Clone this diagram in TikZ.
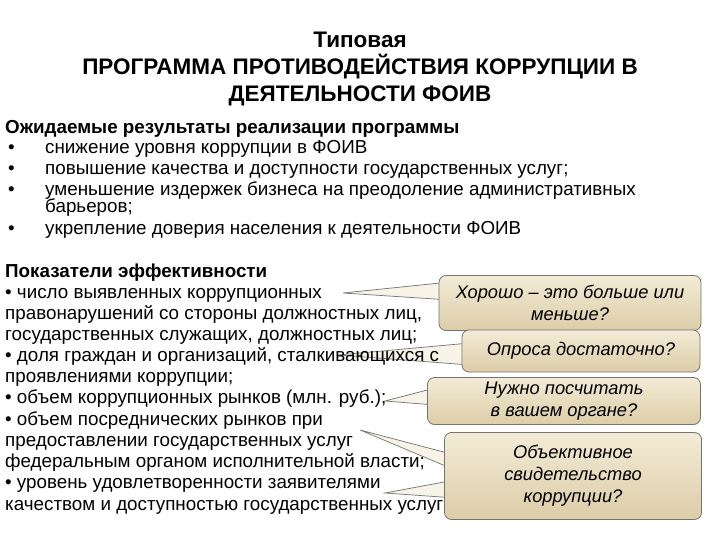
\documentclass[tikz,border=0pt]{standalone}
\usepackage{fontspec}
\setmainfont{Liberation Sans}
\begin{document}
\begin{tikzpicture}[x=1pt,y=-1pt,
  tx/.style={anchor=base west,inner sep=0pt,font=\fontsize{18.8}{20}\selectfont},
  ttl/.style={anchor=base,inner sep=0pt,font=\fontsize{22.5}{24}\selectfont\bfseries},
  call/.style={draw=black!55,line width=0.8pt,rounded corners=7pt,top color=callt,bottom color=callb,inner sep=0pt,align=center,font=\fontsize{18.3}{22}\selectfont\itshape},
  wedge/.style={fill=callt,fill opacity=0.6,draw=black!55,line width=0.7pt}]
\definecolor{callt}{HTML}{F3EBD6}
\definecolor{callb}{HTML}{DCCDA8}
\useasboundingbox[fill=white] (0,0) rectangle (720,540);
% callout wedges
\coordinate (w1) at (343,293);
\coordinate (w2) at (338,355);
\coordinate (w3) at (385,401);
\coordinate (w4) at (360,430);
\coordinate (w5) at (385,493);
\filldraw[wedge] (w1) -- (450,282) -- (450,300) -- cycle;
\filldraw[wedge] (w2) -- (470,343) -- (470,365) -- cycle;
\filldraw[wedge] (w3) -- (435,388) -- (435,405) -- cycle;
\filldraw[wedge] (w4) -- (455,455) -- (455,470) -- cycle;
\filldraw[wedge] (w5) -- (455,480) -- (455,498) -- cycle;
\node[ttl] (t1) at (360,48) {Типовая};
\node[ttl] (t2) at (360,75) {ПРОГРАММА ПРОТИВОДЕЙСТВИЯ КОРРУПЦИИ В};
\node[ttl] (t3) at (360,102) {ДЕЯТЕЛЬНОСТИ ФОИВ};
\node[tx,font=\fontsize{18.8}{20}\selectfont\bfseries] (h1) at (5,134) {Ожидаемые результаты реализации программы};
\foreach \y/\t [count=\i] in {154/снижение уровня коррупции в ФОИВ,175/повышение качества и доступности государственных услуг;,196/уменьшение издержек бизнеса на преодоление административных,235/укрепление доверия населения к деятельности ФОИВ}{
  \node[tx] (b\i) at (8,\y) {•};
  \node[tx] (l\i) at (45,\y) {\t};
}
\node[tx] (l3b) at (45,213) {барьеров;};
\node[tx,font=\fontsize{18.8}{20}\selectfont\bfseries] (h2) at (5,277) {Показатели эффективности};
\foreach \y/\t [count=\i] in {298/• число выявленных коррупционных,319/правонарушений со стороны должностных лиц{,},340/государственных служащих{,} должностных лиц;,361/• доля граждан и организаций{,} сталкивающихся с,382/проявлениями коррупции;,403/• объем коррупционных рынков (млн. руб.);,425/• объем посреднических рынков при,446/предоставлении государственных услуг,467/федеральным органом исполнительной власти;,488/• уровень удовлетворенности заявителями,510/качеством и доступностью государственных услуг}{
  \node[tx] (p\i) at (5,\y) {\t};
}
\node[call,minimum width=262,minimum height=55] (c1) at (570,303) {Хорошо – это больше или\\меньше?};
\node[call,minimum width=238,minimum height=42] (c2) at (581,351) {Опроса достаточно?};
\node[call,minimum width=273,minimum height=47] (c3) at (564,401) {Нужно посчитать\\в вашем органе?};
\node[call,minimum width=257,minimum height=87] (c4) at (573,476) {Объективное\\свидетельство\\коррупции?};
\end{tikzpicture}
\end{document}
